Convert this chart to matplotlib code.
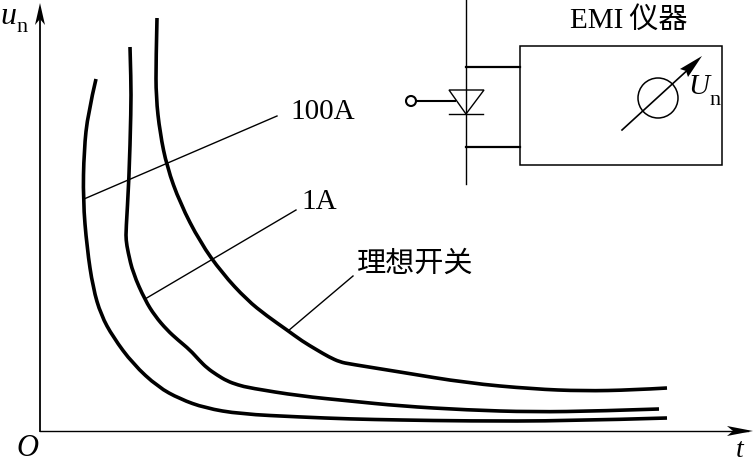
import matplotlib
matplotlib.use("Agg")
import matplotlib.pyplot as plt
from matplotlib.patches import Circle, Rectangle, Polygon, PathPatch
from matplotlib.path import Path

# Curves (x, y in image pixels)
ideal_x = [157, 156, 156, 160, 167, 180, 200, 222, 247, 267, 287, 302, 317, 329, 340, 350, 400, 467, 533, 583, 633, 667]
ideal_y = [18, 60, 97, 133, 167, 203, 242, 273, 300, 316, 330, 341, 350, 357, 362, 364, 372, 383, 389, 391, 390, 388]
a1_x = [130, 131, 131, 129, 126, 126, 128, 133, 145, 155, 167, 178, 190, 199, 207, 217, 227, 238, 250, 300, 350, 400, 467, 533, 600, 659]
a1_y = [47, 80, 110, 180, 230, 240, 252, 273, 300, 316, 330, 340, 350, 360, 368, 375, 381, 385, 388, 396, 401, 406, 410, 412, 411, 409]
a100_x = [96, 88, 84, 83, 87, 93, 101, 113, 133, 158, 180, 205, 240, 300, 350, 400, 467, 567, 667]
a100_y = [79, 113, 150, 200, 248, 288, 315, 337, 364, 387, 399, 408, 414, 417, 419, 420, 421, 421, 418]

# Leader lines: label end to curve
leader_100a_x = [84, 277]
leader_100a_y = [199, 116]
leader_1a_x = [145, 296]
leader_1a_y = [299, 210]
leader_ideal_x = [288, 353]
leader_ideal_y = [331, 276]

labels = ["100A", "1A", "理想开关", "EMI\u2009仪器"]
fonts = ["Liberation Serif", "Noto Sans CJK SC"]
serif = "Liberation Serif"


def smooth(x, y):
    # quadratic pieces through the midpoints, the read points act as controls
    pts = list(zip(x, y))
    verts = [pts[0]]
    codes = [Path.MOVETO]
    for i in range(1, len(pts) - 1):
        end = pts[i + 1] if i == len(pts) - 2 else ((pts[i][0] + pts[i + 1][0]) / 2, (pts[i][1] + pts[i + 1][1]) / 2)
        verts += [pts[i], end]
        codes += [Path.CURVE3, Path.CURVE3]
    return Path(verts, codes)


fig = plt.figure(figsize=(7.53, 4.61), dpi=100)
ax = fig.add_axes([0, 0, 1, 1])
ax.set_xlim(0, 753)
ax.set_ylim(461, 0)
ax.axis("off")

# Axes arrows
ax.plot([40, 40], [12, 431], color="black", lw=1.3)
ax.plot([40, 748], [431, 431], color="black", lw=1.0)
ax.add_patch(Polygon([[40, 3], [45, 25], [40, 19], [35, 25]], color="black", lw=0))
ax.add_patch(Polygon([[753, 431], [727, 426], [733, 431], [727, 436]], color="black", lw=0))

# Curves
for x, y in [(ideal_x, ideal_y), (a1_x, a1_y), (a100_x, a100_y)]:
    ax.add_patch(PathPatch(smooth(x, y), fill=False, ec="black", lw=2.6, capstyle="butt"))

# Leaders
for x, y in [(leader_100a_x, leader_100a_y), (leader_1a_x, leader_1a_y), (leader_ideal_x, leader_ideal_y)]:
    ax.plot(x, y, color="black", lw=1.0)

# Circuit on the right
ax.plot([466, 466], [0, 184], color="black", lw=1.0)
ax.plot([466, 520], [67, 67], color="black", lw=1.6)
ax.plot([466, 520], [147, 147], color="black", lw=1.6)
ax.add_patch(Rectangle((520, 46), 202, 119, fill=False, ec="black", lw=1.1))
ax.add_patch(Circle((411, 101), 5, fill=False, ec="black", lw=1.5))
ax.plot([416, 455], [101, 101], color="black", lw=1.5)
ax.add_patch(Polygon([[449, 90], [484, 90], [466, 114]], fill=False, ec="black", lw=1.0))
ax.plot([449, 483], [114, 114], color="black", lw=1.0)

# Meter
ax.add_patch(Circle((658, 98), 20, fill=False, ec="black", lw=1.1))
ax.plot([622, 692], [130, 66], color="black", lw=1.2)
ax.add_patch(Polygon([[702, 56], [680, 69], [686, 71], [688, 77]], color="black", lw=0))

# Text
ax.text(0, 17, "u", fontsize=23, style="italic", ha="left", va="center", family=serif)
ax.text(16, 27, "n", fontsize=16, ha="left", va="center", family=serif)
ax.text(16, 448, "O", fontsize=22, style="italic", ha="left", va="center", family=serif)
ax.text(736, 450, "t", fontsize=20, style="italic", ha="left", va="center", family=serif)
ax.text(290, 112, labels[0], fontsize=21, ha="left", va="center", family=fonts)
ax.text(301, 202, labels[1], fontsize=21, ha="left", va="center", family=fonts)
ax.text(357, 265, labels[2], fontsize=21, ha="left", va="center", family=fonts)
ax.text(570, 20, labels[3], fontsize=21, ha="left", va="center", family=fonts)
ax.text(688, 87, "U", fontsize=21, style="italic", ha="left", va="center", family=serif)
ax.text(709, 100, "n", fontsize=16, ha="left", va="center", family=serif)

fig.savefig("out.png", dpi=100)
